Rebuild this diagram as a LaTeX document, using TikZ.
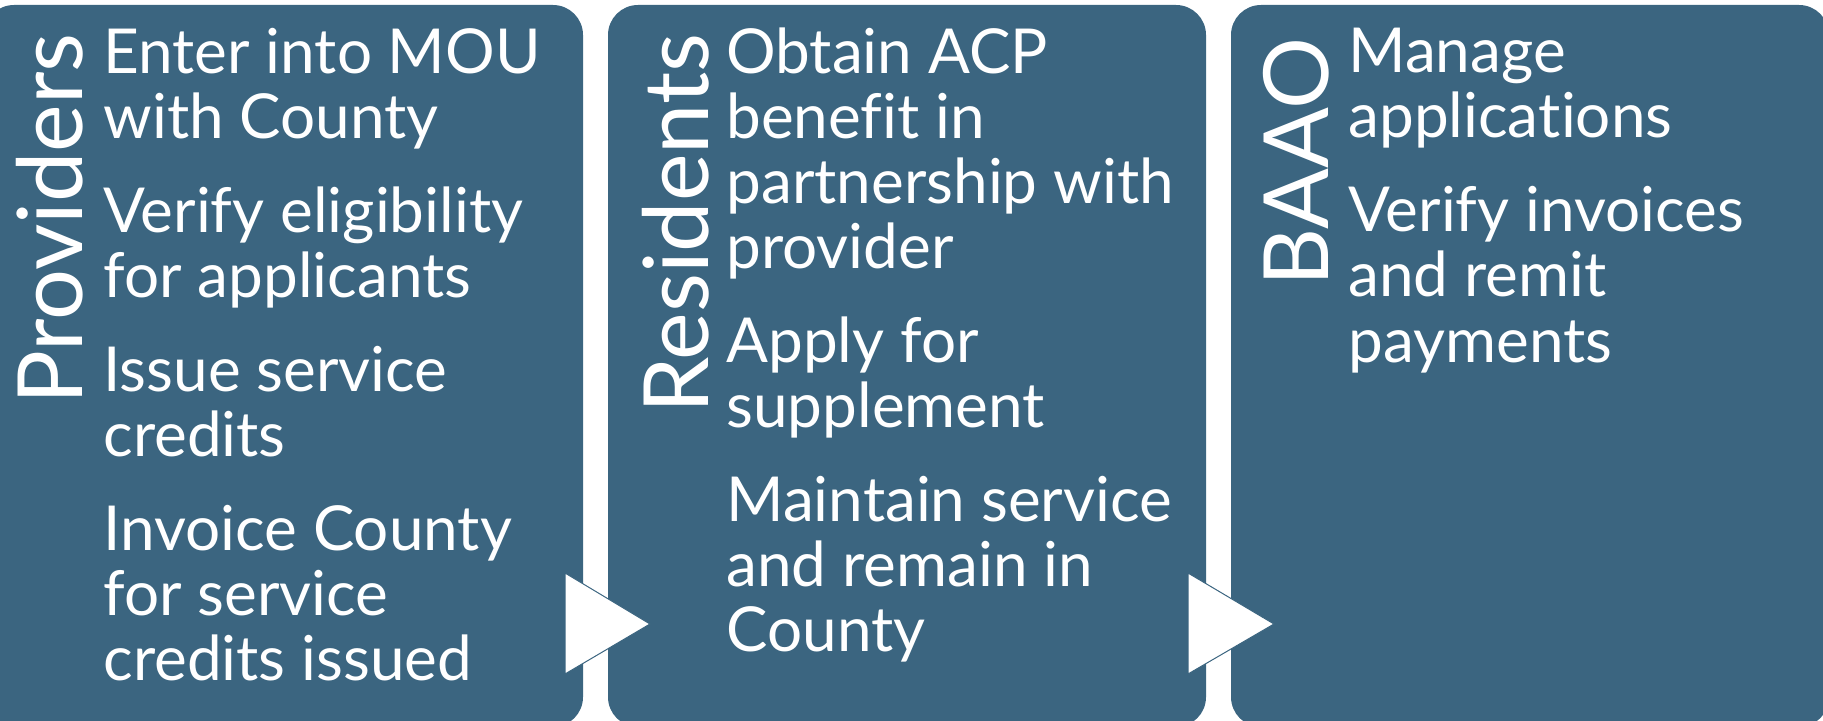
\documentclass[tikz,border=0pt]{standalone}
\usepackage{fontspec}
\setmainfont{Lato}[Ligatures={NoCommon,NoRare,NoContextual}, RawFeature={-dlig,-calt}]
\definecolor{panelblue}{RGB}{59,101,128}

\begin{document}
\begin{tikzpicture}[x=0.5pt, y=-0.5pt,
    panel/.style={fill=panelblue, rounded corners=15pt},
    title/.style={rotate=90, anchor=base east, text=white, inner sep=0pt,
      font=\fontsize{45}{50}\selectfont},
    items/.style={anchor=base west, text=white, inner sep=0pt, align=left,
      font=\fontsize{31}{32.5}\selectfont},
    pointer/.style={fill=white, draw=panelblue, line width=0.5pt}]

    \clip (0,0) rectangle (1823,721);
    \useasboundingbox (0,0) rectangle (1823,721);

    \fill[panel] (-16,5) rectangle (583,727);
    \fill[panel] (608,5) rectangle (1206,727);
    \fill[panel] (1231,5) rectangle (1829,727);

    \node[title] (Providers) at (82,33) {Providers};
    \node[title] (Residents) at (708,33) {Residents};
    \node[title] (BAAO) at (1328,37) {BAAO};

    \node[items] (ProvidersTasks) at (103,680) {Enter into MOU\\with County\\[14.5pt]
      Verify eligibility\\for applicants\\[14.5pt]
      Issue service\\credits\\[14.5pt]
      Invoice County\\for service\\credits issued};

    \node[items] (ResidentsTasks) at (726,651) {Obtain ACP\\benefit in\\partnership with\\provider\\[14.5pt]
      Apply for\\supplement\\[14.5pt]
      Maintain service\\and remain in\\County};

    \node[items] (BAAOTasks) at (1348,362) {Manage\\applica\kern0pt tions\\[14.5pt]
      Verify invoices\\and remit\\payments};

    \filldraw[pointer] (565,573) -- (565,674) -- (650,624) -- cycle;
    \filldraw[pointer] (1188,573) -- (1188,674) -- (1274,624) -- cycle;
  \end{tikzpicture}
\end{document}
